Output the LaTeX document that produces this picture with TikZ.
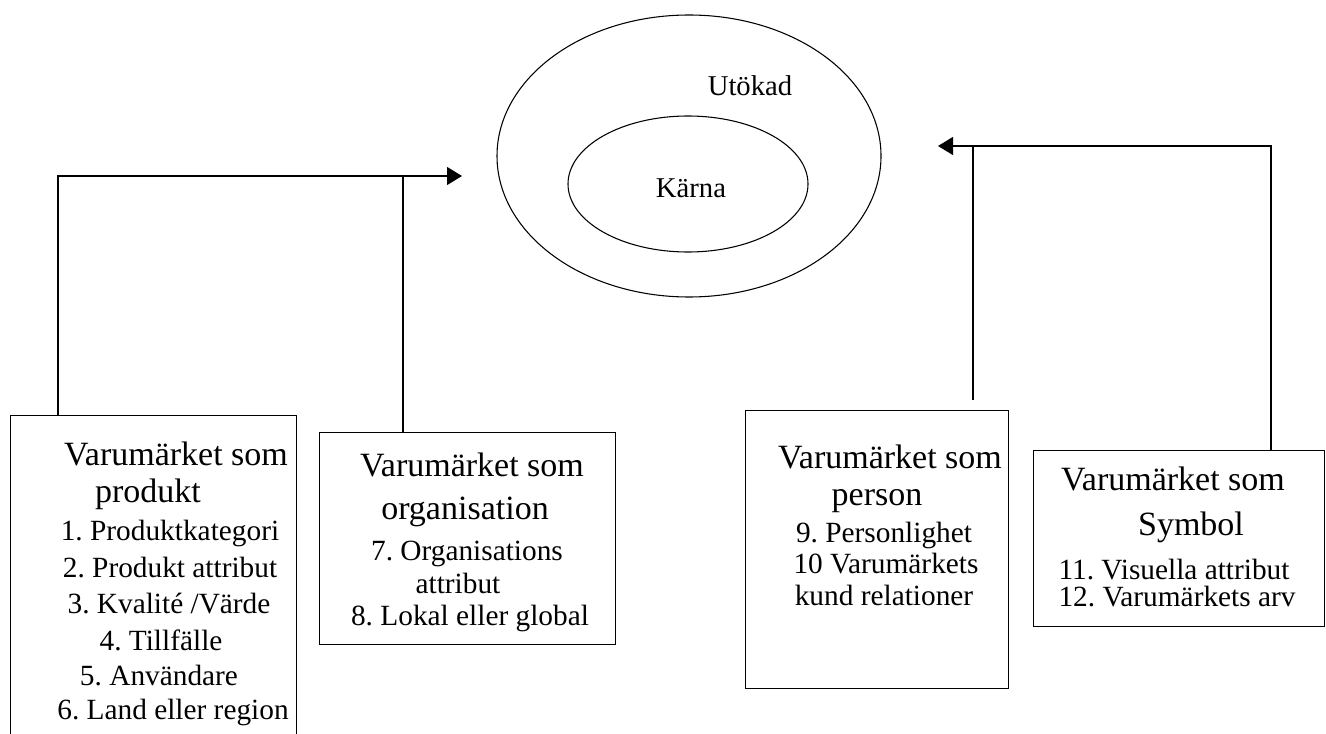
\documentclass[tikz,border=0pt]{standalone}
\usepackage{fontspec}
\setmainfont{Liberation Serif}
\usetikzlibrary{arrows.meta,shapes.geometric}
\frenchspacing
\begin{document}
\begin{tikzpicture}[x=0.75pt,y=-0.75pt,
  frame/.style={draw,line width=0.9pt,rectangle,anchor=north west,inner sep=0},
  ring/.style={draw,line width=0.8pt,ellipse,inner sep=0},
  head/.style={anchor=base,inner sep=0,font=\fontsize{25.5}{30}\selectfont},
  item/.style={anchor=base,inner sep=0,font=\fontsize{22}{26}\selectfont},
  ringlabel/.style={anchor=base,inner sep=0,font=\fontsize{21.5}{26}\selectfont},
  link/.style={line width=0.9pt},
  tip/.style={-{Triangle[length=11.25pt,width=13.5pt]}}
]
\useasboundingbox (0,0) rectangle (1326,734);
\clip (0,0) rectangle (1326,734);

% brand identity: core and extended
\node[ring,minimum width=288pt,minimum height=211.5pt] (outer) at (689,156) {};
\node[ring,minimum width=180pt,minimum height=102pt] (inner) at (688,184) {};
\node[ringlabel] (ext) at (750,96) {Utökad};
\node[ringlabel] (core) at (691,198) {Kärna};

% the four perspective boxes
\node[frame,minimum width=214.5pt,minimum height=258.75pt] (b1) at (10,415) {};
\node[frame,minimum width=222pt,minimum height=159pt] (b2) at (319,432) {};
\node[frame,minimum width=197.25pt,minimum height=208.5pt] (b3) at (745,410) {};
\node[frame,minimum width=218.25pt,minimum height=132pt] (b4) at (1033,450) {};

% product
\node[head] (p0) at (176,465) {Varumärket som};
\node[head] (p1) at (148,502) {produkt};
\node[item] (p2) at (170,540) {1. Produktkategori};
\node[item] (p3) at (170,577) {2. Produkt attribut};
\node[item] (p4) at (169,613) {3. Kvalité /Värde};
\node[item] (p5) at (161,650) {4. Tillfälle};
\node[item] (p6) at (159,685) {5. Användare};
\node[item] (p7) at (173,719) {6. Land eller region};

% organisation
\node[head] (o0) at (472,476) {Varumärket som};
\node[head] (o1) at (465,519) {organisation};
\node[item] (o2) at (467,560) {7. Organisations};
\node[item] (o3) at (458,593) {attribut};
\node[item] (o4) at (470,625) {8. Lokal eller global};

% person
\node[head] (q0) at (890,468) {Varumärket som};
\node[head] (q1) at (877,505) {person};
\node[item] (q2) at (884,542) {9. Personlighet};
\node[item] (q3) at (886,573) {10 Varumärkets};
\node[item] (q4) at (884,605) {kund relationer};

% symbol
\node[head] (s0) at (1173,490) {Varumärket som};
\node[head] (s1) at (1191,535) {Symbol};
\node[item] (s2) at (1174,579) {11. Visuella attribut};
\node[item] (s3) at (1177,606) {12. Varumärkets arv};

% connectors
\coordinate (cornerL) at (58,176);
\coordinate (joinL) at (403,176);
\coordinate (tipL) at (462,176);
\draw[link,tip] (b1.north -| cornerL) -- (cornerL) -- (tipL);
\draw[link] (b2.north -| joinL) -- (joinL);

\coordinate (cornerR) at (1271,146);
\coordinate (joinR) at (973,146);
\coordinate (tipR) at (938,146);
\coordinate (endR) at (973,400);
\draw[link,tip] (b4.north -| cornerR) -- (cornerR) -- (tipR);
\draw[link] (endR) -- (joinR);
\end{tikzpicture}
\end{document}
